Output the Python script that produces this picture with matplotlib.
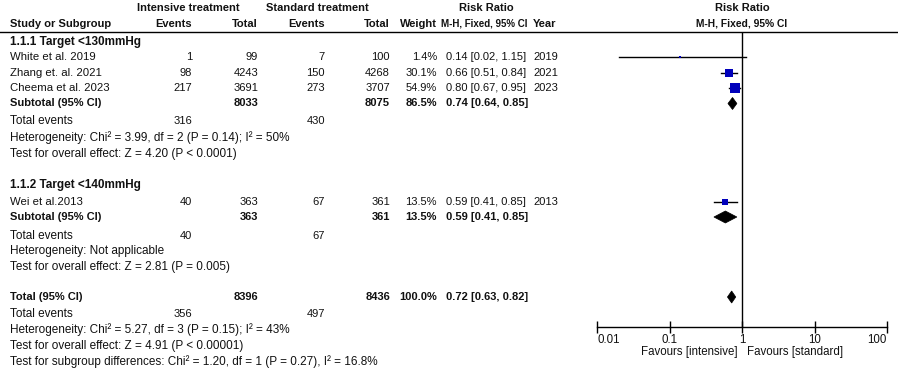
import matplotlib
matplotlib.use("Agg")
import matplotlib.pyplot as plt
from matplotlib.patches import Polygon
import numpy as np

# ---------------- data ----------------
studies = ["White et al. 2019", "Zhang et. al. 2021", "Cheema et al. 2023", "Wei et al.2013"]
group_of = [0, 0, 0, 1]
int_events = [1, 98, 217, 40]
int_total = [99, 4243, 3691, 363]
std_events = [7, 150, 273, 67]
std_total = [100, 4268, 3707, 361]
weights = [1.4, 30.1, 54.9, 13.5]
rr = [0.14, 0.66, 0.80, 0.59]
rr_lo = [0.02, 0.51, 0.67, 0.41]
rr_hi = [1.15, 0.84, 0.95, 0.85]
years = [2019, 2021, 2023, 2013]

group_names = ["1.1.1 Target <130mmHg", "1.1.2 Target <140mmHg"]
sub_int_total = [8033, 363]
sub_std_total = [8075, 361]
sub_weight = [86.5, 13.5]
sub_rr = [0.74, 0.59]
sub_lo = [0.64, 0.41]
sub_hi = [0.85, 0.85]
sub_int_events = [316, 40]
sub_std_events = [430, 67]
sub_het = ["Heterogeneity: Chi\u00b2 = 3.99, df = 2 (P = 0.14); I\u00b2 = 50%",
           "Heterogeneity: Not applicable"]
sub_test = ["Test for overall effect: Z = 4.20 (P < 0.0001)",
            "Test for overall effect: Z = 2.81 (P = 0.005)"]

tot_int_total = 8396
tot_std_total = 8436
tot_weight = 100.0
tot_rr, tot_lo, tot_hi = 0.72, 0.63, 0.82
tot_int_events = 356
tot_std_events = 497
tot_het = "Heterogeneity: Chi\u00b2 = 5.27, df = 3 (P = 0.15); I\u00b2 = 43%"
tot_test = "Test for overall effect: Z = 4.91 (P < 0.00001)"
subgroup_test = "Test for subgroup differences: Chi\u00b2 = 1.20, df = 1 (P = 0.27), I\u00b2 = 16.8%"

tick_vals = [0.01, 0.1, 1, 10, 100]
tick_labels = ["0.01", "0.1", "1", "10", "100"]
fav_left = "Favours [intensive]"
fav_right = "Favours [standard]"

# ---------------- layout ----------------
W, H = 898, 368
plt.rcParams['font.family'] = ['Liberation Sans', 'DejaVu Sans']
FS = 8
FS_DESC = 8.5
TXT = '#111111'
SQ = '#0000BB'

fig = plt.figure(figsize=(W / 100, H / 100), dpi=100)
ax = fig.add_axes([0, 0, 1, 1])
ax.set_xlim(0, W)
ax.set_ylim(H, 0)
ax.axis('off')

# forest axes
fx0, fx1 = 597, 887
fa = fig.add_axes([fx0 / W, 0, (fx1 - fx0) / W, 1])
fa.set_xscale('log')
fa.set_xlim(0.01, 100)
fa.set_ylim(H, 0)
fa.patch.set_visible(False)
for s in ['top', 'left', 'right']:
    fa.spines[s].set_visible(False)
axis_y = 327
fa.spines['bottom'].set_position(('data', axis_y))
fa.spines['bottom'].set_linewidth(1.0)
fa.set_yticks([])
fa.set_xticks(tick_vals)
fa.set_xticklabels(tick_labels, fontsize=8.3, color=TXT)
fa.xaxis.set_minor_locator(matplotlib.ticker.NullLocator())
fa.tick_params(axis='x', direction='inout', length=8, width=1.0, pad=1)
tl = fa.get_xticklabels()
tl[0].set_horizontalalignment('left')
tl[-1].set_horizontalalignment('right')

# columns
X_NAME = 10
X_IEV = 192
X_ITOT = 258
X_SEV = 325
X_STOT = 390
X_W = 437
X_CI = 446
X_YEAR = 533

def t(x, y, s, ha='left', bold=False, size=FS):
    ax.text(x, y, s, ha=ha, va='center', fontsize=size, color=TXT,
            fontweight='bold' if bold else 'normal')

# header
t(137, 8, "Intensive treatment", bold=True)
t(266, 8, "Standard treatment", bold=True)
t(486, 8, "Risk Ratio", ha='center', bold=True)
t(742, 8, "Risk Ratio", ha='center', bold=True)
t(X_NAME, 24, "Study or Subgroup", bold=True)
t(X_IEV, 24, "Events", ha='right', bold=True)
t(X_ITOT, 24, "Total", ha='right', bold=True)
t(X_SEV, 24, "Events", ha='right', bold=True)
t(X_STOT, 24, "Total", ha='right', bold=True)
t(X_W, 24, "Weight", ha='right', bold=True)
t(441, 24, "M-H, Fixed, 95% CI", bold=True, size=7.0)
t(X_YEAR, 24, "Year", bold=True)
t(742, 24, "M-H, Fixed, 95% CI", ha='center', bold=True, size=7.4)
ax.plot([0, W], [32, 32], color='black', lw=1.0)

# vertical line of no effect
fa.vlines(1, 32, axis_y, color='black', lw=1.0)

def ci_text(r, lo, hi):
    return f"{r:.2f} [{lo:.2f}, {hi:.2f}]"

def diamond(y, r, lo, hi, h=6):
    fa.add_patch(Polygon([(lo, y), (r, y - h), (hi, y), (r, y + h)],
                         closed=True, facecolor='black', edgecolor='black', lw=0.5))

group_title_y = [42, 185]
study_y = [57, 72.5, 88, 202]
sub_y = [103.5, 217]
sub_ev_y = [121, 236]
sub_het_y = [138, 251]
sub_test_y = [154, 267]

for g in range(2):
    t(X_NAME, group_title_y[g], group_names[g], bold=True, size=8.5)

for i, name in enumerate(studies):
    y = study_y[i]
    t(X_NAME, y, name, size=8.2)
    t(X_IEV, y, str(int_events[i]), ha='right')
    t(X_ITOT, y, str(int_total[i]), ha='right')
    t(X_SEV, y, str(std_events[i]), ha='right')
    t(X_STOT, y, str(std_total[i]), ha='right')
    t(X_W, y, f"{weights[i]:.1f}%", ha='right')
    t(X_CI, y, ci_text(rr[i], rr_lo[i], rr_hi[i]))
    t(X_YEAR, y, str(years[i]))
    fa.plot([rr_lo[i], rr_hi[i]], [y, y], color='black', lw=1.0)
    side = 1.48 * np.sqrt(weights[i])  # px
    fa.plot([rr[i]], [y], marker='s', markersize=max(side, 2.0) * 0.72, color=SQ,
            markeredgewidth=0, linestyle='none')

for g in range(2):
    y = sub_y[g]
    t(X_NAME, y, "Subtotal (95% CI)", bold=True)
    t(X_ITOT, y, str(sub_int_total[g]), ha='right', bold=True)
    t(X_STOT, y, str(sub_std_total[g]), ha='right', bold=True)
    t(X_W, y, f"{sub_weight[g]:.1f}%", ha='right', bold=True)
    t(X_CI, y, ci_text(sub_rr[g], sub_lo[g], sub_hi[g]), bold=True)
    diamond(y, sub_rr[g], sub_lo[g], sub_hi[g])
    t(X_NAME, sub_ev_y[g], "Total events", size=FS_DESC)
    t(X_IEV, sub_ev_y[g], str(sub_int_events[g]), ha='right')
    t(X_SEV, sub_ev_y[g], str(sub_std_events[g]), ha='right')
    t(X_NAME, sub_het_y[g], sub_het[g], size=FS_DESC)
    t(X_NAME, sub_test_y[g], sub_test[g], size=FS_DESC)

# overall
y = 297
t(X_NAME, y, "Total (95% CI)", bold=True)
t(X_ITOT, y, str(tot_int_total), ha='right', bold=True)
t(X_STOT, y, str(tot_std_total), ha='right', bold=True)
t(X_W, y, f"{tot_weight:.1f}%", ha='right', bold=True)
t(X_CI, y, ci_text(tot_rr, tot_lo, tot_hi), bold=True)
diamond(y, tot_rr, tot_lo, tot_hi)
t(X_NAME, 314, "Total events", size=FS_DESC)
t(X_IEV, 314, str(tot_int_events), ha='right')
t(X_SEV, 314, str(tot_std_events), ha='right')
t(X_NAME, 330, tot_het, size=FS_DESC)
t(X_NAME, 346, tot_test, size=FS_DESC)
t(X_NAME, 362, subgroup_test, size=FS_DESC)

t(738, 352, fav_left, ha='right', size=8.3)
t(747, 352, fav_right, ha='left', size=8.3)

fig.savefig("out.png", dpi=100)
